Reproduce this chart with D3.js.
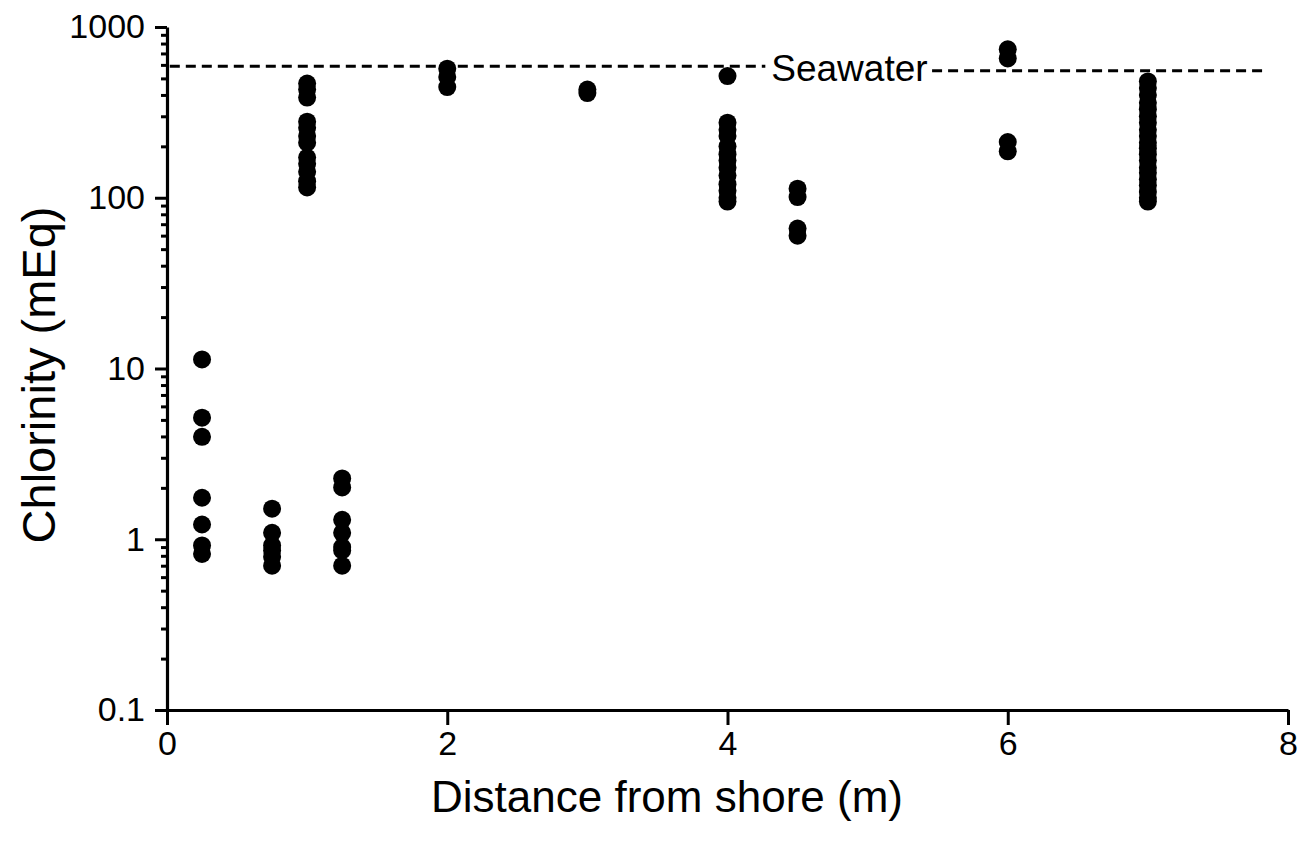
<!DOCTYPE html>
<html lang="en">
<head>
<meta charset="utf-8">
<title>Chlorinity vs distance from shore</title>
<script src="https://d3js.org/d3.v7.min.js"></script>
<style>
  body { margin: 0; background: #fff; }
  svg text { font-family: "Liberation Sans", Arial, Helvetica, sans-serif; fill: #000; }
</style>
</head>
<body>
<svg width="1310" height="865"></svg>
<script>
// distance from shore (m) for each sampled column
const distances = [0.25, 0.75, 1, 1.25, 2, 3, 4, 4.5, 6, 7];
// chlorinity readings (mEq) at each distance
const chlorinity = [
  [11.3, 5.15, 3.98, 1.75, 1.22, 0.92, 0.82],
  [1.51, 1.09, 0.92, 0.86, 0.79, 0.70],
  [466, 430, 386, 279, 257, 230, 210, 172, 158, 142, 125, 115],
  [2.27, 2.01, 1.30, 1.09, 0.90, 0.86, 0.70],
  [570, 510, 445],
  [430, 410],
  [516, 275, 250, 230, 200, 180, 165, 150, 135, 120, 110, 100, 95],
  [113, 101, 66, 60],
  [740, 655, 212, 187],
  [480, 440, 400, 360, 330, 300, 275, 250, 230, 210, 195, 180, 165, 150, 140, 128, 118, 108, 100, 95]
];
// seawater reference line, drawn in two pieces around its label
const seawaterSegments = [
  { from: 0.02, to: 4.27, value: 590 },
  { from: 5.46, to: 7.82, value: 555 }
];
const seawaterLabel = { x: 4.87, value: 572, text: "Seawater" };

const xTicks = [0, 2, 4, 6, 8];
const yMajor = [0.1, 1, 10, 100, 1000];
const yMinor = [];
[0.1, 1, 10, 100].forEach(d => { for (let k = 2; k <= 9; k++) yMinor.push(d * k); });

const points = [];
distances.forEach((x, i) => chlorinity[i].forEach(v => points.push({ x: x, v: v })));

const svg = d3.select("svg");
const x = d3.scaleLinear().domain([0, 8]).range([167, 1288]);
const y = d3.scaleLog().domain([0.1, 1000]).range([710, 27]);

// minor y ticks
svg.append("g")
  .attr("transform", "translate(167,0)")
  .call(d3.axisLeft(y).tickValues(yMinor).tickSize(6).tickSizeOuter(0).tickFormat(""))
  .call(g => g.select(".domain").remove())
  .selectAll("line").attr("stroke", "#000").attr("stroke-width", 3);

// major y ticks
const yAxis = svg.append("g")
  .attr("transform", "translate(167,0)")
  .call(d3.axisLeft(y).tickValues(yMajor).tickSize(12).tickSizeOuter(0).tickPadding(10)
    .tickFormat(d => d3.format("")(d)));
yAxis.select(".domain").attr("stroke-width", 3.2);
yAxis.selectAll("line").attr("stroke-width", 3);
yAxis.selectAll("text").style("font-size", "34px");

// x axis
const xAxis = svg.append("g")
  .attr("transform", "translate(0,710)")
  .call(d3.axisBottom(x).tickValues(xTicks).tickSize(15).tickSizeOuter(0).tickPadding(6));
xAxis.select(".domain").attr("stroke-width", 3.2);
xAxis.selectAll("line").attr("stroke-width", 3);
xAxis.selectAll("text").style("font-size", "34px");

// seawater line
svg.append("g").selectAll("line")
  .data(seawaterSegments)
  .join("line")
  .attr("x1", d => x(d.from)).attr("x2", d => x(d.to))
  .attr("y1", d => y(d.value)).attr("y2", d => y(d.value))
  .attr("stroke", "#000")
  .attr("stroke-width", 3)
  .attr("stroke-dasharray", "10,6");

svg.append("text")
  .attr("x", x(seawaterLabel.x))
  .attr("y", y(seawaterLabel.value))
  .attr("dy", "0.35em")
  .attr("text-anchor", "middle")
  .style("font-size", "37px")
  .text(seawaterLabel.text);

// data points
svg.append("g").selectAll("circle")
  .data(points)
  .join("circle")
  .attr("cx", d => x(d.x))
  .attr("cy", d => y(d.v))
  .attr("r", 9)
  .attr("fill", "#000");

// axis titles
svg.append("text")
  .attr("x", 667)
  .attr("y", 812)
  .attr("text-anchor", "middle")
  .style("font-size", "44px")
  .text("Distance from shore (m)");

svg.append("text")
  .attr("transform", "translate(55,375) rotate(-90)")
  .attr("text-anchor", "middle")
  .style("font-size", "47px")
  .text("Chlorinity (mEq)");
</script>
</body>
</html>
